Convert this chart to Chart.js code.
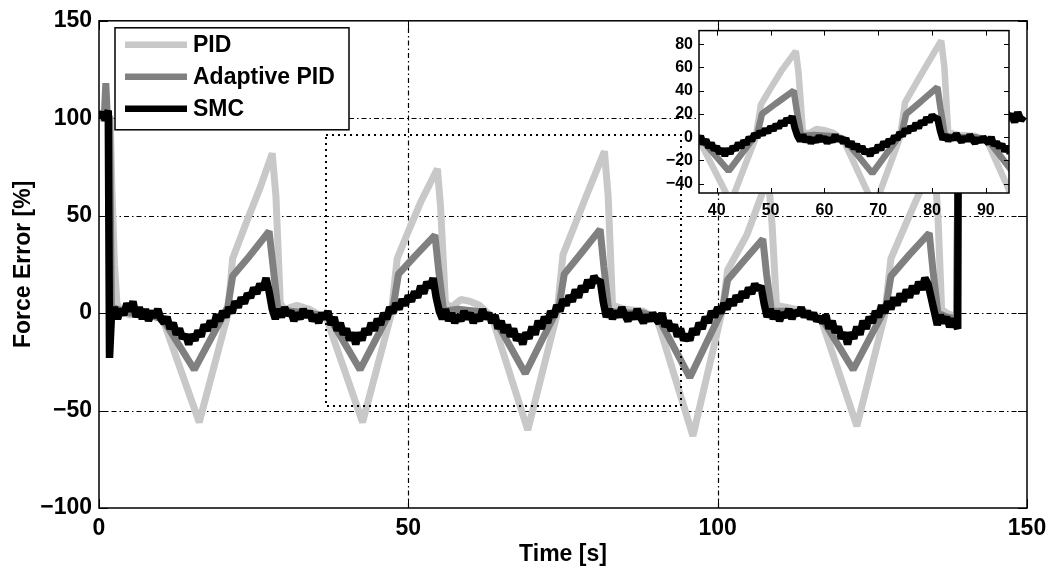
<!DOCTYPE html>
<html><head><meta charset="utf-8">
<script src="https://cdn.jsdelivr.net/npm/chart.js@4.4.0/dist/chart.umd.min.js"></script>
<style>
html,body{margin:0;padding:0;background:#fff;}
#wrap{position:relative;width:1056px;height:570px;overflow:hidden;}
#main{position:absolute;left:0;top:0;}
#inset{position:absolute;left:640px;top:15px;}
</style></head><body>
<div id="wrap"><canvas id="main" width="1056" height="570"></canvas><canvas id="inset" width="400" height="220"></canvas></div>
<script>
// ---------- DATA ----------
const seriesNames = ['PID', 'Adaptive PID', 'SMC'];

// PID: time [s] and force error [%] at key vertices
const pidT = [0, 1.8, 2.1, 2.5, 2.9, 3.5, 5, 7, 9, 10.3, 16.2, 20.8, 21.6, 24, 26, 28.0, 28.6, 29.3, 30, 32, 34, 36.8,
  42.6, 47.2, 48.2, 50, 52, 54.7, 55.2, 56, 57, 58.5, 60, 61.5, 63.5,
  69.3, 74, 75, 77, 79, 81.7, 82.3, 83, 85, 88, 90.2,
  96.0, 100.8, 101.6, 104.7, 108.2, 108.8, 109.5, 111, 114, 116.7,
  122.5, 127, 128, 131, 135, 135.6, 136.2, 137, 138.6, 138.9, 149];
const pidV = [100, 101, 62, 25, 5, 1, -1, 1, 0, -3, -56, -1, 28, 48, 64, 82, 60, 5, 2, 4, 2, -3,
  -56, -1, 28, 42, 57, 74, 55, 5, 3, 7, 6, 4, -2,
  -60, -1, 30, 46, 62, 83, 60, 4, 2, 1, -3,
  -63, 2, 22, 40, 70, 45, 4, 3, 1, -3,
  -58, -1, 28, 50, 79, 50, 2, 0, -2, 100, 100];

// Adaptive PID
const adpT = [0, 0.9, 1.1, 1.3, 1.7, 2.0, 5, 8, 10.3, 15.4, 20.8, 21.6, 24, 27.5, 28.1, 28.9, 31, 34, 37.2,
  42.2, 47.6, 48.4, 51, 54.3, 54.9, 55.7, 58, 61, 63.8,
  68.9, 74.4, 75.2, 78, 81.0, 81.6, 82.4, 85, 88, 90.5,
  95.5, 100.8, 101.6, 104, 107.3, 107.9, 108.7, 111, 114, 116.9,
  121.9, 127.2, 128, 131, 134.2, 134.8, 135.6, 137, 138.6, 138.9, 149];
const adpV = [100, 104, 118, 104, 100, 3, 0, -1, -3, -29, 3, 19, 28, 42, 25, 2, 1, 0, -2,
  -29, 4, 20, 29, 40, 22, 1, 2, 1, -2,
  -31, 4, 20, 31, 43, 24, 1, 0, 0, -3,
  -33, 2, 17, 26, 38, 20, 1, 1, 0, -3,
  -29, 3, 19, 30, 41, 22, 0, -2, -3, 100, 100];

// SMC: sampled every 0.5 s, one row per 5 s block (t = 5*row + 0.5*col)
const smcStep = 0.5;
const smcBlockSpan = 5;
const smcBlocks = [
  [100, 103, 99, 104, -2, 3, -3, 2, -1, 5],
  [1, 6, -2, 3, -3, 2, -4, 1, -2, 2],
  [-3, -5, -2, -8, -5, -11, -8, -13, -11, -16],
  [-11, -14, -9, -12, -6, -9, -4, -7, -1, -4],
  [1, -2, 3, 0, 6, 3, 8, 5, 10, 8],
  [13, 10, 15, 12, 18, 11, 2, -3, 2, -2],
  [3, -1, 1, -4, 0, -3, 2, -2, 1, -4],
  [-1, -5, 0, -3, 1, -6, -2, -9, -5, -11],
  [-8, -14, -10, -16, -10, -14, -8, -11, -5, -9],
  [-3, -6, 0, -3, 3, 0, 5, 2, 7, 4],
  [9, 6, 11, 8, 14, 10, 16, 13, 18, 8],
  [1, -3, 2, -4, 0, -5, -1, -4, 1, -3],
  [0, -5, -1, -4, 2, -3, 0, -5, -1, -8],
  [-4, -10, -6, -12, -8, -14, -11, -16, -10, -13],
  [-7, -11, -4, -8, -2, -5, 1, -2, 4, 1],
  [7, 4, 9, 6, 12, 8, 14, 11, 17, 13],
  [19, 16, 17, 6, -2, 2, -3, 1, -2, 3],
  [-1, -4, 0, -3, 2, -2, -5, -1, -4, 0],
  [-3, -5, 0, -7, -4, -9, -6, -12, -8, -14],
  [-11, -14, -8, -11, -5, -8, -2, -5, 1, -2],
  [3, 0, 5, 2, 7, 4, 9, 6, 11, 8],
  [13, 10, 15, 12, 14, 5, -2, 2, -3, 1],
  [-4, 0, -2, 2, -3, 1, -1, 3, -2, 1],
  [-3, 0, -4, -2, -5, -1, -8, -4, -10, -7],
  [-13, -10, -16, -10, -13, -7, -11, -4, -8, -2],
  [-5, 1, -2, 4, 0, 6, 2, 8, 4, 10],
  [6, 12, 8, 14, 10, 16, 12, 18, 15, 8],
  [1, -6, -1, -5, -2, -7, -3, -6, 100, 103],
  [98, 102, 99, 104, 100, 97, 101, 98, 103, 100],
  [96, 101, 99, 104, 100, 102, 98, 103, 99, 101]
];
// SMC switching instants (start / stop of force command)
const smcEventT = [1.6, 1.7, 138.8, 138.9];
const smcEventV = [104, -23, -8, 101];

// Axes
const mainXTicks = [0, 50, 100, 150];
const mainYTicks = [-100, -50, 0, 50, 100, 150];
const mainXRange = [0, 150];
const mainYRange = [-100, 150];
const insetXTicks = [40, 50, 60, 70, 80, 90];
const insetYTicks = [-40, -20, 0, 20, 40, 60, 80];
const insetXRange = [36.7, 94.3];
const insetYRange = [-48, 91.7];
// zoom-window rectangle drawn on the main axes [x0, x1, y0, y1]
const zoomBox = [36.7, 94.0, -47.5, 91.5];

// ---------- BUILD ----------
const FONT = "'Liberation Sans', Arial, Helvetica, sans-serif";
Chart.defaults.font.family = FONT;
Chart.defaults.font.weight = 'bold';
Chart.defaults.color = '#000';

function pairs(ts, vs) { return ts.map((t, i) => ({ x: t, y: vs[i] })); }
const pidPts = pairs(pidT, pidV);
const adpPts = pairs(adpT, adpV);
const smcPts = [];
smcBlocks.forEach((row, b) => row.forEach((v, j) => smcPts.push({ x: b * smcBlockSpan + j * smcStep, y: v })));
smcEventT.forEach((t, i) => smcPts.push({ x: t, y: smcEventV[i] }));
smcPts.sort((a, b) => a.x - b.x);

const colors = ['#c8c8c8', '#808080', '#000000'];
function makeDatasets(w) {
  const pts = [pidPts, adpPts, smcPts];
  return seriesNames.map((n, i) => ({
    label: n, data: pts[i], borderColor: colors[i], backgroundColor: colors[i],
    borderWidth: w[i], pointRadius: 0, fill: false, tension: 0,
    borderJoinStyle: 'bevel', clip: 0, order: 3 - i
  }));
}
const minus = v => String(v).replace('-', '\u2212');

function drawFrame(ctx, ca, xs, ys, xt, yt, tickLen, lw) {
  ctx.save();
  ctx.strokeStyle = '#000';
  ctx.lineWidth = lw;
  ctx.setLineDash([]);
  ctx.strokeRect(ca.left, ca.top, ca.right - ca.left, ca.bottom - ca.top);
  ctx.lineWidth = 1;
  ctx.beginPath();
  xt.forEach(v => {
    const px = Math.round(xs.getPixelForValue(v)) + 0.5;
    ctx.moveTo(px, ca.bottom); ctx.lineTo(px, ca.bottom - tickLen);
    ctx.moveTo(px, ca.top); ctx.lineTo(px, ca.top + tickLen);
  });
  yt.forEach(v => {
    const py = Math.round(ys.getPixelForValue(v)) + 0.5;
    ctx.moveTo(ca.left, py); ctx.lineTo(ca.left + tickLen, py);
    ctx.moveTo(ca.right, py); ctx.lineTo(ca.right - tickLen, py);
  });
  ctx.stroke();
  ctx.restore();
}

const mainDeco = {
  id: 'mainDeco',
  beforeDatasetsDraw(chart) {
    const { ctx, chartArea: ca, scales: { x, y } } = chart;
    ctx.save();
    ctx.strokeStyle = '#000';
    ctx.lineWidth = 1.2;
    ctx.setLineDash([5, 3, 1.5, 3]);
    ctx.beginPath();
    mainXTicks.slice(1, -1).forEach(v => {
      const px = Math.round(x.getPixelForValue(v)) + 0.5;
      ctx.moveTo(px, ca.bottom); ctx.lineTo(px, ca.top);
    });
    mainYTicks.slice(1, -1).forEach(v => {
      const py = Math.round(y.getPixelForValue(v)) + 0.5;
      ctx.moveTo(ca.left, py); ctx.lineTo(ca.right, py);
    });
    ctx.stroke();
    ctx.restore();
  },
  afterDatasetsDraw(chart) {
    const { ctx, chartArea: ca, scales: { x, y } } = chart;
    // zoom rectangle
    ctx.save();
    ctx.strokeStyle = '#000';
    ctx.lineWidth = 2;
    ctx.setLineDash([2, 4]);
    const rx0 = Math.round(x.getPixelForValue(zoomBox[0])), rx1 = Math.round(x.getPixelForValue(zoomBox[1]));
    const ry0 = Math.round(y.getPixelForValue(zoomBox[2])), ry1 = Math.round(y.getPixelForValue(zoomBox[3]));
    ctx.strokeRect(rx0, ry1, rx1 - rx0, ry0 - ry1);
    ctx.restore();
    drawFrame(ctx, ca, x, y, mainXTicks, mainYTicks, 9, 1.5);
    // legend
    const lx = ca.left + 16, ly = ca.top + 7, lw = 234, lh = 102;
    ctx.save();
    ctx.fillStyle = '#fff';
    ctx.fillRect(lx, ly, lw, lh);
    ctx.strokeStyle = '#000';
    ctx.lineWidth = 1.5;
    ctx.strokeRect(lx, ly, lw, lh);
    ctx.font = 'bold 23px ' + FONT;
    ctx.textBaseline = 'middle';
    ctx.textAlign = 'left';
    chart.data.datasets.forEach((ds, i) => {
      const ry = ly + 17 + i * 32;
      ctx.strokeStyle = ds.borderColor;
      ctx.lineWidth = 6.5;
      ctx.beginPath();
      ctx.moveTo(lx + 10, ry); ctx.lineTo(lx + 72, ry);
      ctx.stroke();
      ctx.fillStyle = '#000';
      ctx.fillText(ds.label, lx + 78, ry + 1);
    });
    ctx.restore();
  }
};

new Chart(document.getElementById('main'), {
  type: 'line',
  data: { datasets: makeDatasets([7, 7, 7.5]) },
  options: {
    responsive: false, animation: false, devicePixelRatio: 1,
    layout: { padding: { left: 0, right: 29, top: 20, bottom: 0 } },
    plugins: { legend: { display: false }, tooltip: { enabled: false } },
    scales: {
      x: {
        type: 'linear', min: mainXRange[0], max: mainXRange[1],
        afterBuildTicks: s => { s.ticks = mainXTicks.map(v => ({ value: v })); },
        afterFit: s => { s.height = 62; },
        grid: { display: false, drawTicks: false }, border: { display: false },
        ticks: { padding: 7, font: { size: 23, weight: 'bold' }, color: '#000', maxRotation: 0, callback: minus },
        title: { display: true, text: 'Time [s]', font: { size: 23, weight: 'bold' }, color: '#000', padding: { top: 0, bottom: 2 } }
      },
      y: {
        type: 'linear', min: mainYRange[0], max: mainYRange[1],
        afterBuildTicks: s => { s.ticks = mainYTicks.map(v => ({ value: v })); },
        afterFit: s => { s.width = 99; },
        grid: { display: false, drawTicks: false }, border: { display: false },
        ticks: { padding: 7, font: { size: 23, weight: 'bold' }, color: '#000', callback: minus },
        title: { display: true, text: 'Force Error [%]', font: { size: 23, weight: 'bold' }, color: '#000', padding: { top: 10, bottom: 0 } }
      }
    }
  },
  plugins: [mainDeco]
});

const insetDeco = {
  id: 'insetDeco',
  beforeDatasetsDraw(chart) {
    const { ctx, chartArea: ca } = chart;
    ctx.save();
    ctx.fillStyle = '#fff';
    ctx.fillRect(ca.left, ca.top, ca.right - ca.left, ca.bottom - ca.top);
    ctx.restore();
  },
  afterDatasetsDraw(chart) {
    const { ctx, chartArea: ca, scales: { x, y } } = chart;
    drawFrame(ctx, ca, x, y, insetXTicks, insetYTicks, 5, 1.5);
  }
};

new Chart(document.getElementById('inset'), {
  type: 'line',
  data: { datasets: makeDatasets([6.5, 6.5, 7]) },
  options: {
    responsive: false, animation: false, devicePixelRatio: 1,
    layout: { padding: { left: 0, right: 31, top: 14, bottom: 0 } },
    plugins: { legend: { display: false }, tooltip: { enabled: false } },
    scales: {
      x: {
        type: 'linear', min: insetXRange[0], max: insetXRange[1],
        afterBuildTicks: s => { s.ticks = insetXTicks.map(v => ({ value: v })); },
        afterFit: s => { s.height = 42; },
        grid: { display: false, drawTicks: false }, border: { display: false },
        ticks: { padding: 8, font: { size: 16, weight: 'bold' }, color: '#000', maxRotation: 0, callback: minus }
      },
      y: {
        type: 'linear', min: insetYRange[0], max: insetYRange[1],
        afterBuildTicks: s => { s.ticks = insetYTicks.map(v => ({ value: v })); },
        afterFit: s => { s.width = 59; },
        grid: { display: false, drawTicks: false }, border: { display: false },
        ticks: { padding: 6, font: { size: 16, weight: 'bold' }, color: '#000', callback: minus }
      }
    }
  },
  plugins: [insetDeco]
});
</script>
</body></html>
